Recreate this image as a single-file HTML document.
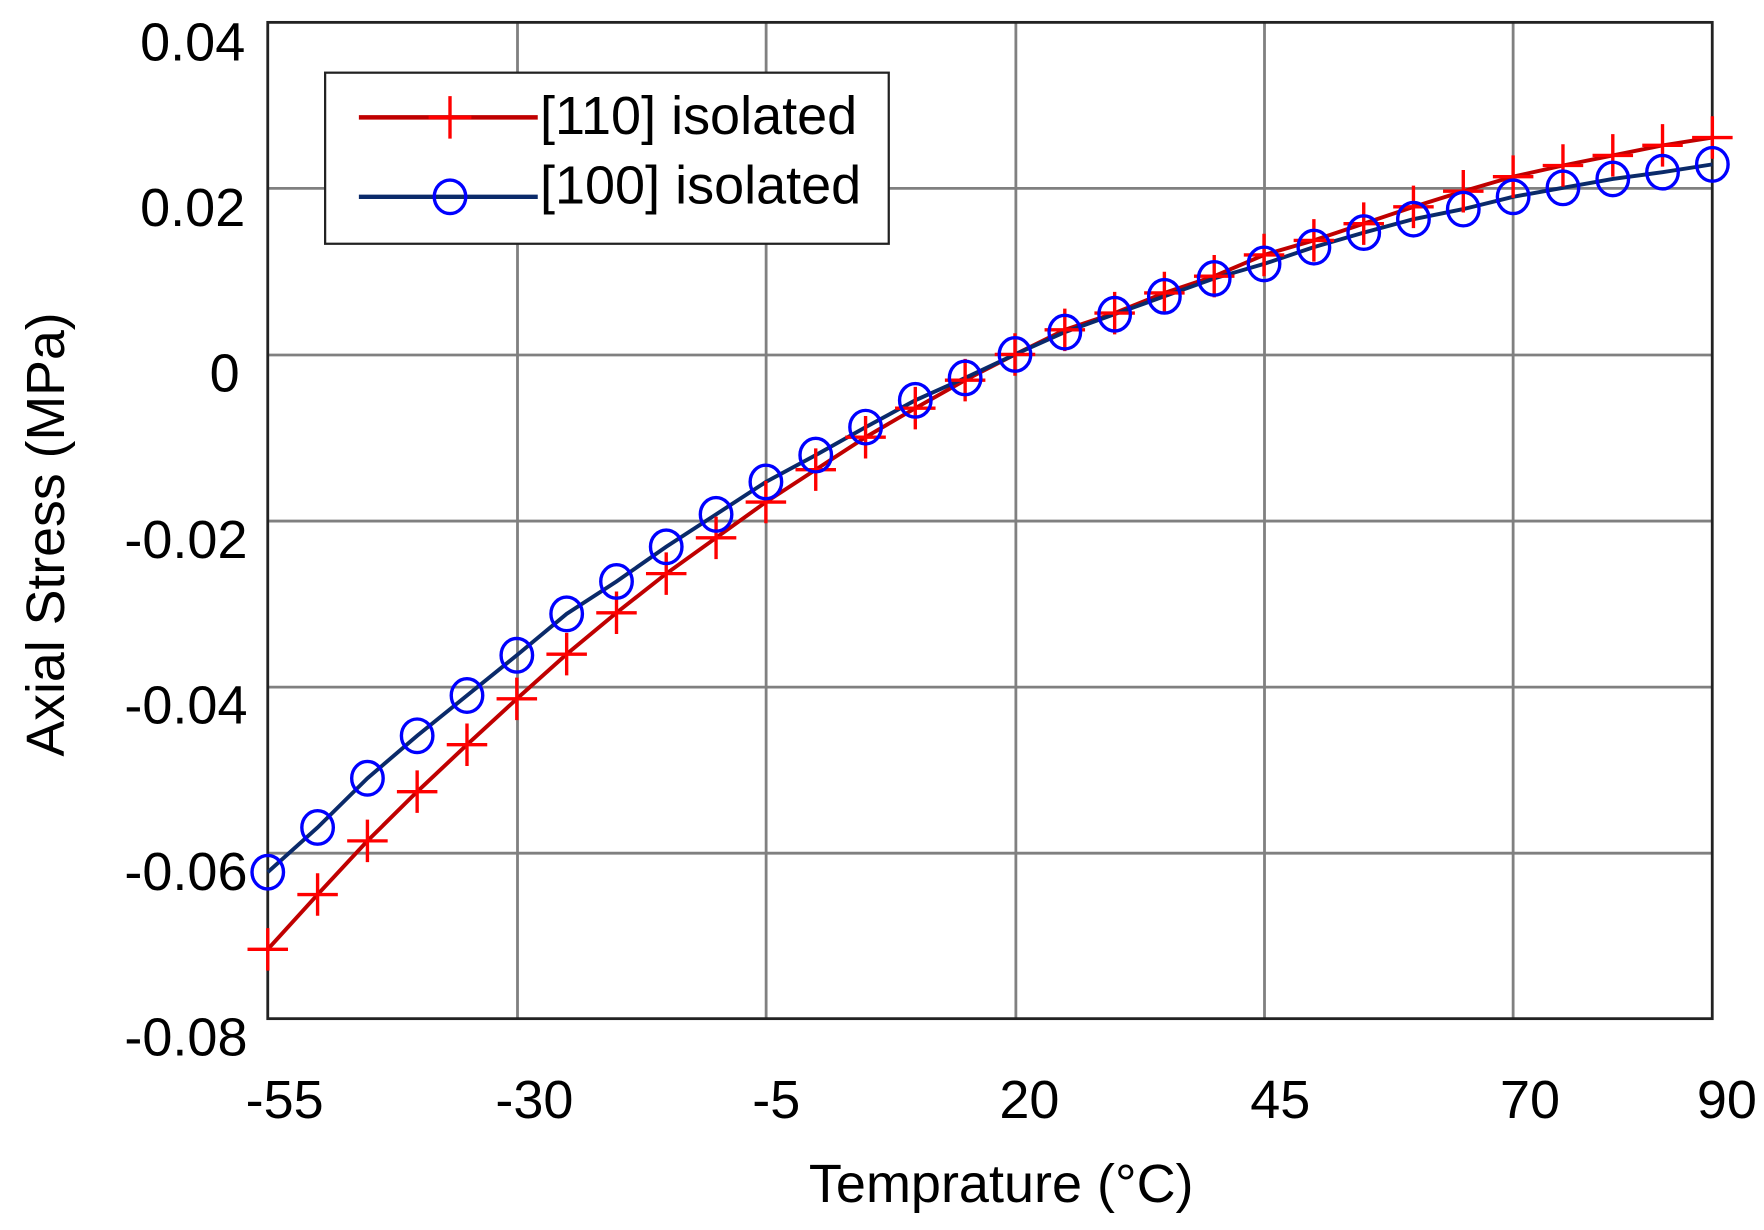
<!DOCTYPE html>
<html><head><meta charset="utf-8"><style>
html,body{margin:0;padding:0;background:#fff;}
svg{display:block;}
text{font-family:"Liberation Sans",Arial,sans-serif;}
</style></head><body>
<svg width="1764" height="1230" viewBox="0 0 1568 1100" preserveAspectRatio="none" xmlns="http://www.w3.org/2000/svg">
<g stroke="#808080" stroke-width="2.5">
<line x1="460" y1="20" x2="460" y2="911"/><line x1="681" y1="20" x2="681" y2="911"/><line x1="903" y1="20" x2="903" y2="911"/><line x1="1124" y1="20" x2="1124" y2="911"/><line x1="1345" y1="20" x2="1345" y2="911"/>
<line x1="238" y1="168.5" x2="1522" y2="168.5"/><line x1="238" y1="317.5" x2="1522" y2="317.5"/><line x1="238" y1="466" x2="1522" y2="466"/><line x1="238" y1="614.5" x2="1522" y2="614.5"/><line x1="238" y1="763" x2="1522" y2="763"/>
</g>
<rect x="238" y="20" width="1284" height="891" fill="none" stroke="#222" stroke-width="2.5"/>
<g font-size="48" fill="#000" text-anchor="end">
<text x="218" y="54">0.04</text><text x="218" y="202">0.02</text><text x="213" y="350">0</text><text x="220" y="499">-0.02</text><text x="220" y="647">-0.04</text><text x="220" y="796">-0.06</text><text x="220" y="944">-0.08</text>
</g>
<g font-size="48" fill="#000" text-anchor="middle">
<text x="253" y="1000">-55</text><text x="475" y="1000">-30</text><text x="690" y="1000">-5</text><text x="915" y="1000">20</text><text x="1138" y="1000">45</text><text x="1360" y="1000">70</text><text x="1535" y="1000">90</text>
<text x="890" y="1075">Temprature (°C)</text>
</g>
<text transform="translate(57,478) rotate(-90)" font-size="48" text-anchor="middle">Axial Stress (MPa)</text>

<polyline fill="none" stroke="#c00000" stroke-width="3.5" points="238,849 282.3,800 326.6,752 370.8,708 415.1,666 459.4,625 503.7,585 548,548 592.2,513 636.5,481 680.8,449 725.1,420 769.4,391 813.6,365 857.9,340 902.2,317 946.5,295 990.8,280 1035,262 1079.3,247 1123.6,228 1167.9,215 1212.2,200 1256.4,185 1300.7,171 1345,158 1389.3,148 1433.6,139 1477.8,130 1522.1,123"/>
<polyline fill="none" stroke="#0a2a6a" stroke-width="3.5" points="238,780 282.3,740 326.6,696 370.8,658 415.1,622 459.4,586 503.7,549 548,520 592.2,489 636.5,460 680.8,431 725.1,407 769.4,382 813.6,358 857.9,338 902.2,317 946.5,297 990.8,281 1035,265 1079.3,249 1123.6,236 1167.9,221 1212.2,208 1256.4,196 1300.7,187 1345,176 1389.3,168 1433.6,160 1477.8,154 1522.1,147"/>
<path stroke="#ff0000" stroke-width="3" fill="none" d="
M220 849h36M238 830v38
M264.3 800h36M282.3 781v38
M308.6 752h36M326.6 733v38
M352.8 708h36M370.8 689v38
M397.1 666h36M415.1 647v38
M441.4 625h36M459.4 606v38
M485.7 585h36M503.7 566v38
M530 548h36M548 529v38
M574.2 513h36M592.2 494v38
M618.5 481h36M636.5 462v38
M662.8 449h36M680.8 430v38
M707.1 420h36M725.1 401v38
M751.4 391h36M769.4 372v38
M795.6 365h36M813.6 346v38
M839.9 340h36M857.9 321v38
M884.2 317h36M902.2 298v38
M928.5 295h36M946.5 276v38
M972.8 280h36M990.8 261v38
M1017 262h36M1035 243v38
M1061.3 247h36M1079.3 228v38
M1105.6 228h36M1123.6 209v38
M1149.9 215h36M1167.9 196v38
M1194.2 200h36M1212.2 181v38
M1238.4 185h36M1256.4 166v38
M1282.7 171h36M1300.7 152v38
M1327 158h36M1345 139v38
M1371.3 148h36M1389.3 129v38
M1415.6 139h36M1433.6 120v38
M1459.8 130h36M1477.8 111v38
M1504.1 123h36M1522.1 104v38"/>
<g fill="none" stroke="#0000ff" stroke-width="3">
<ellipse cx="238" cy="780" rx="14" ry="15"/><ellipse cx="282.3" cy="740" rx="14" ry="15"/><ellipse cx="326.6" cy="696" rx="14" ry="15"/><ellipse cx="370.8" cy="658" rx="14" ry="15"/><ellipse cx="415.1" cy="622" rx="14" ry="15"/><ellipse cx="459.4" cy="586" rx="14" ry="15"/><ellipse cx="503.7" cy="549" rx="14" ry="15"/><ellipse cx="548" cy="520" rx="14" ry="15"/><ellipse cx="592.2" cy="489" rx="14" ry="15"/><ellipse cx="636.5" cy="460" rx="14" ry="15"/><ellipse cx="680.8" cy="431" rx="14" ry="15"/><ellipse cx="725.1" cy="407" rx="14" ry="15"/><ellipse cx="769.4" cy="382" rx="14" ry="15"/><ellipse cx="813.6" cy="358" rx="14" ry="15"/><ellipse cx="857.9" cy="338" rx="14" ry="15"/><ellipse cx="902.2" cy="317" rx="14" ry="15"/><ellipse cx="946.5" cy="297" rx="14" ry="15"/><ellipse cx="990.8" cy="281" rx="14" ry="15"/><ellipse cx="1035" cy="265" rx="14" ry="15"/><ellipse cx="1079.3" cy="249" rx="14" ry="15"/><ellipse cx="1123.6" cy="236" rx="14" ry="15"/><ellipse cx="1167.9" cy="221" rx="14" ry="15"/><ellipse cx="1212.2" cy="208" rx="14" ry="15"/><ellipse cx="1256.4" cy="196" rx="14" ry="15"/><ellipse cx="1300.7" cy="187" rx="14" ry="15"/><ellipse cx="1345" cy="176" rx="14" ry="15"/><ellipse cx="1389.3" cy="168" rx="14" ry="15"/><ellipse cx="1433.6" cy="160" rx="14" ry="15"/><ellipse cx="1477.8" cy="154" rx="14" ry="15"/><ellipse cx="1522.1" cy="147" rx="14" ry="15"/>
</g>

<rect x="289" y="65" width="501" height="153" fill="#fff" stroke="#222" stroke-width="2"/>
<line x1="319" y1="105" x2="478" y2="105" stroke="#c00000" stroke-width="4"/>
<path d="M381 105h38M400 86v38" stroke="#ff0000" stroke-width="3"/>
<line x1="319" y1="176" x2="478" y2="176" stroke="#0a2a6a" stroke-width="4"/>
<ellipse cx="400" cy="176" rx="14" ry="15" fill="none" stroke="#0000ff" stroke-width="3"/>
<text x="480" y="120" font-size="48">[110] isolated</text>
<text x="480" y="182" font-size="48">[100] isolated</text>
</svg>
</body></html>
